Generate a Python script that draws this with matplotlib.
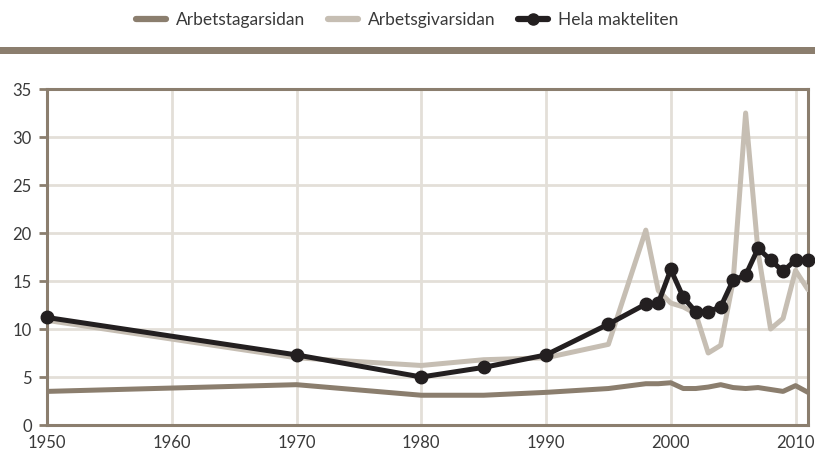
import matplotlib
matplotlib.use("Agg")
import matplotlib.pyplot as plt
from matplotlib.lines import Line2D
from matplotlib.patches import Rectangle

plt.rcParams['font.family'] = ['Lato', 'DejaVu Sans']

years = [1950, 1970, 1980, 1985, 1990, 1995, 1998, 1999, 2000, 2001, 2002,
         2003, 2004, 2005, 2006, 2007, 2008, 2009, 2010, 2011]
arbetstagarsidan = [3.5, 4.2, 3.1, 3.1, 3.4, 3.8, 4.3, 4.3, 4.4, 3.8, 3.8,
                    3.95, 4.2, 3.9, 3.8, 3.9, 3.7, 3.5, 4.1, 3.4]
arbetsgivarsidan = [10.9, 7.0, 6.2, 6.8, 7.0, 8.4, 20.3, 14.0, 12.7, 12.3, 11.6,
                    7.5, 8.3, 15.0, 32.5, 18.0, 10.0, 11.1, 16.1, 14.1]
hela_makteliten = [11.2, 7.3, 5.0, 6.0, 7.3, 10.5, 12.6, 12.7, 16.2, 13.3, 11.8,
                   11.8, 12.3, 15.1, 15.6, 18.4, 17.2, 16.0, 17.2, 17.2]
labels = ["Arbetstagarsidan", "Arbetsgivarsidan", "Hela makteliten"]
xticks = [1950, 1960, 1970, 1980, 1990, 2000, 2010]
yticks = [0, 5, 10, 15, 20, 25, 30, 35]

c_tag = "#8b7e6e"
c_giv = "#c6beb3"
c_hela = "#231f20"
c_grid = "#e3dfd8"
c_spine = "#8b7e6e"
c_text = "#3a3a3a"

fig = plt.figure(figsize=(8.15, 4.51), dpi=100)
ax = fig.add_axes([47/815, 1-425/451, (808-47)/815, (425-89)/451])

ax.plot(years, arbetstagarsidan, color=c_tag, lw=3.6, solid_capstyle='round', solid_joinstyle='round', zorder=3)
ax.plot(years, arbetsgivarsidan, color=c_giv, lw=3.6, solid_capstyle='round', solid_joinstyle='round', zorder=3)
ax.plot(years, hela_makteliten, color=c_hela, lw=3.6, marker='o', ms=9, solid_joinstyle='round', zorder=4, clip_on=False)

ax.set_xlim(1950, 2011)
ax.set_ylim(0, 35)
ax.set_xticks(xticks)
ax.set_yticks(yticks)
ax.grid(True, color=c_grid, lw=2, zorder=0)
for s in ax.spines.values():
    s.set_color(c_spine)
    s.set_linewidth(2.2)
ax.tick_params(axis='y', length=6, width=2, color=c_spine, labelsize=12, labelcolor=c_text, pad=5)
ax.tick_params(axis='x', length=0, labelsize=12, labelcolor=c_text, pad=7)

# top band
fig.add_artist(Rectangle((0, 1-54/451), 1, 7/451, transform=fig.transFigure, color=c_spine, lw=0))

handles = [Line2D([], [], color=c_tag, lw=4.5, solid_capstyle='round'),
           Line2D([], [], color=c_giv, lw=4.5, solid_capstyle='round'),
           Line2D([], [], color=c_hela, lw=4.5, marker='o', ms=8, solid_capstyle='round')]
fig.legend(handles, labels, loc='center', bbox_to_anchor=(0.5, 1-20/451), ncol=3, frameon=False,
           fontsize=12.5, handlelength=1.7, columnspacing=1.3, handletextpad=0.6, labelcolor=c_text)

fig.savefig("out.png", dpi=100)
